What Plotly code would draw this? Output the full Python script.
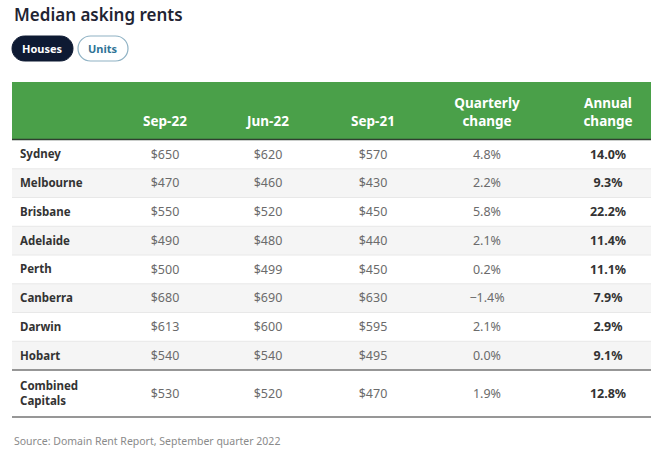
import plotly.graph_objects as go

# ---------------- data ----------------
cities = ["Sydney", "Melbourne", "Brisbane", "Adelaide", "Perth", "Canberra",
          "Darwin", "Hobart", "Combined<br>Capitals"]
sep22 = [650, 470, 550, 490, 500, 680, 613, 540, 530]
jun22 = [620, 460, 520, 480, 499, 690, 600, 540, 520]
sep21 = [570, 430, 450, 440, 450, 630, 595, 495, 470]
quarterly = [4.8, 2.2, 5.8, 2.1, 0.2, -1.4, 2.1, 0.0, 1.9]
annual = [14.0, 9.3, 22.2, 11.4, 11.1, 7.9, 2.9, 9.1, 12.8]
headers = ["Sep-22", "Jun-22", "Sep-21", "Quarterly<br>change", "Annual<br>change"]
title = "Median asking rents"
source = "Source: Domain Rent Report, September quarter 2022"

# ---------------- layout constants ----------------
W, H = 659, 461
FONT = "Noto Sans"
LEFT, RIGHT = 12, 651
HEAD_TOP, HEAD_BOT = 82, 140
ROW_H = 28.75
LAST_H = 47
COL_X = [165, 268, 373, 487, 608]
CITY_X = 20
GREEN = "#4aa049"
STRIPE = "#f5f5f5"

n = len(cities)
row_tops = [HEAD_BOT + i * ROW_H for i in range(n)]
row_h = [ROW_H] * (n - 1) + [LAST_H]
row_mid = [t + h / 2 + 1 for t, h in zip(row_tops, row_h)]

fig = go.Figure()
shapes = []

# header band
shapes.append(dict(type="rect", xref="x", yref="y", x0=LEFT, x1=RIGHT, y0=HEAD_TOP, y1=HEAD_BOT,
                   fillcolor=GREEN, line=dict(width=0), layer="below"))
shapes.append(dict(type="line", xref="x", yref="y", x0=LEFT, x1=RIGHT, y0=HEAD_BOT - 0.5, y1=HEAD_BOT - 0.5,
                   line=dict(color="#2f3f30", width=1.5)))
# stripes and separators
for i in range(n):
    t, h = row_tops[i], row_h[i]
    if i % 2 == 1:
        shapes.append(dict(type="rect", xref="x", yref="y", x0=LEFT, x1=RIGHT, y0=t, y1=t + h,
                           fillcolor=STRIPE, line=dict(width=0), layer="below"))
    if 0 < i < n - 1:
        shapes.append(dict(type="line", xref="x", yref="y", x0=LEFT, x1=RIGHT, y0=t, y1=t,
                           line=dict(color="#e8e8e8", width=1), layer="below"))
# heavy rule above combined & bottom rule
for yv in [row_tops[-1], row_tops[-1] + LAST_H]:
    shapes.append(dict(type="line", xref="x", yref="y", x0=LEFT, x1=RIGHT, y0=yv, y1=yv,
                       line=dict(color="#747474", width=1.5)))


def pill(x0, x1, y0, y1):
    r = (y1 - y0) / 2
    k = 0.5523 * r
    ym = (y0 + y1) / 2
    return (f"M {x0 + r},{y0} L {x1 - r},{y0} "
            f"C {x1 - r + k},{y0} {x1},{ym - k} {x1},{ym} "
            f"C {x1},{ym + k} {x1 - r + k},{y1} {x1 - r},{y1} "
            f"L {x0 + r},{y1} "
            f"C {x0 + r - k},{y1} {x0},{ym + k} {x0},{ym} "
            f"C {x0},{ym - k} {x0 + r - k},{y0} {x0 + r},{y0} Z")


shapes.append(dict(type="path", xref="x", yref="y", path=pill(12, 73, 36, 61),
                   fillcolor="#0e1a33", line=dict(color="#0e1a33", width=1)))
shapes.append(dict(type="path", xref="x", yref="y", path=pill(78, 128, 36, 61),
                   fillcolor="white", line=dict(color="#8fb2c4", width=1.2)))

# header labels
fig.add_trace(go.Scatter(x=COL_X, y=[129] * len(headers), mode="text", text=[f"<b>{h}</b>" for h in headers],
                         textposition="top center",
                         textfont=dict(family=FONT, size=13.5, color="white"), hoverinfo="skip"))
# city labels
fig.add_trace(go.Scatter(x=[CITY_X] * n, y=row_mid, mode="text", text=[f"<b>{c}</b>" for c in cities],
                         textposition="middle right",
                         textfont=dict(family=FONT, size=11.5, color="#333333"), hoverinfo="skip"))
# value columns
cols = [
    [f"${v}" for v in sep22],
    [f"${v}" for v in jun22],
    [f"${v}" for v in sep21],
    [("\u2212" if v < 0 else "") + f"{abs(v):.1f}%" for v in quarterly],
]
for cx, vals in zip(COL_X[:4], cols):
    fig.add_trace(go.Scatter(x=[cx] * n, y=row_mid, mode="text", text=vals, textposition="middle center",
                             textfont=dict(family=FONT, size=12.5, color="#6b6b6b"), hoverinfo="skip"))
fig.add_trace(go.Scatter(x=[COL_X[4]] * n, y=row_mid, mode="text", text=[f"<b>{v:.1f}%</b>" for v in annual],
                         textposition="middle center",
                         textfont=dict(family=FONT, size=12.5, color="#333333"), hoverinfo="skip"))

annotations = [
    dict(x=12, y=14, xref="x", yref="y", text=title, showarrow=False, xanchor="left", yanchor="middle",
         font=dict(family=FONT, size=17, color="#1f2433", weight=600)),
    dict(x=42.5, y=48.5, xref="x", yref="y", text="<b>Houses</b>", showarrow=False,
         font=dict(family=FONT, size=11, color="white")),
    dict(x=103, y=48.5, xref="x", yref="y", text="<b>Units</b>", showarrow=False,
         font=dict(family=FONT, size=11, color="#2e7396")),
    dict(x=12, y=441, xref="x", yref="y", text=source, showarrow=False, xanchor="left", yanchor="middle",
         font=dict(family=FONT, size=10.5, color="#8a8a8a")),
]

fig.update_layout(
    width=W, height=H, margin=dict(l=0, r=0, t=0, b=0),
    paper_bgcolor="white", plot_bgcolor="white", showlegend=False,
    xaxis=dict(range=[0, W], visible=False, fixedrange=True),
    yaxis=dict(range=[H, 0], visible=False, fixedrange=True),
    shapes=shapes, annotations=annotations,
)
fig.write_html("out.html", config={"displayModeBar": False},
               post_script="document.body.style.margin='0';document.body.style.overflow='hidden';")
